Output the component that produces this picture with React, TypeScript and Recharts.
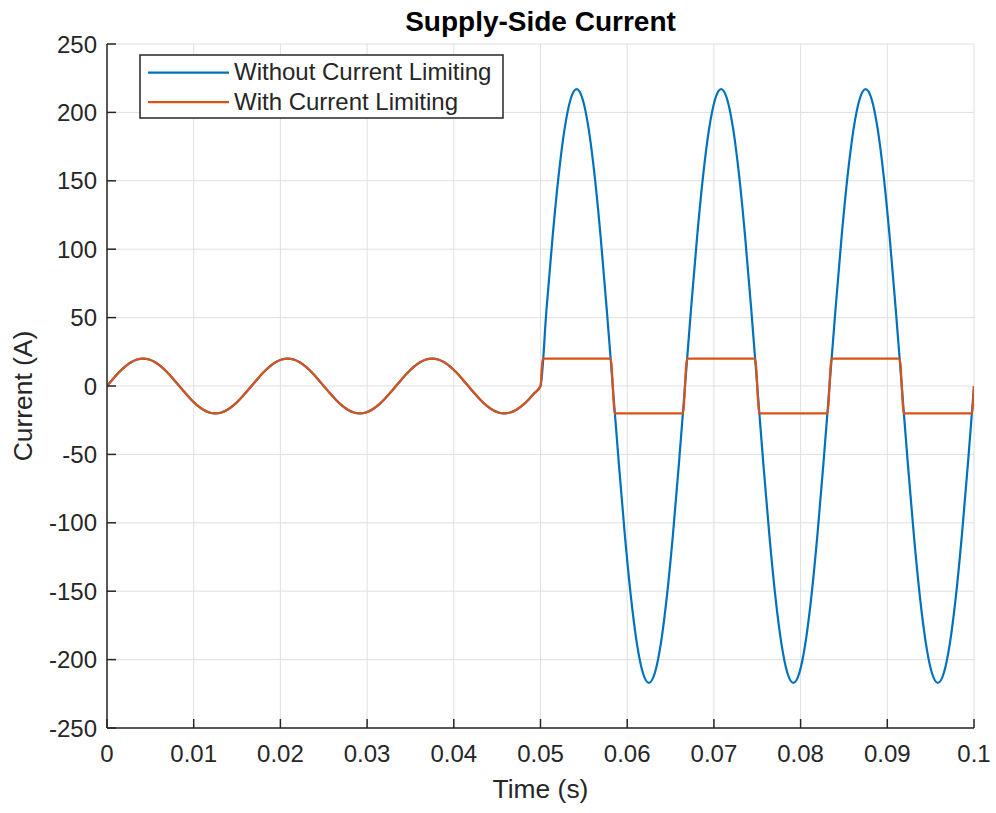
import { LineChart, Line, XAxis, YAxis, CartesianGrid, Legend } from 'recharts';

// sampled supply current, 60 Hz, fault at t = 0.05 s
const timeS = [
  0, 0.000694, 0.001389, 0.002083, 0.002778, 0.003472, 0.004167, 0.004861, 0.005556, 0.00625, 0.006944, 0.007639,
  0.008333, 0.009028, 0.009722, 0.010417, 0.011111, 0.011806, 0.0125, 0.013194, 0.013889, 0.014583, 0.015278, 0.015972,
  0.016667, 0.017361, 0.018056, 0.01875, 0.019444, 0.020139, 0.020833, 0.021528, 0.022222, 0.022917, 0.023611, 0.024306,
  0.025, 0.025694, 0.026389, 0.027083, 0.027778, 0.028472, 0.029167, 0.029861, 0.030556, 0.03125, 0.031944, 0.032639,
  0.033333, 0.034028, 0.034722, 0.035417, 0.036111, 0.036806, 0.0375, 0.038194, 0.038889, 0.039583, 0.040278, 0.040972,
  0.041667, 0.042361, 0.043056, 0.04375, 0.044444, 0.045139, 0.045833, 0.046528, 0.047222, 0.047917, 0.048611, 0.049306,
  0.05, 0.050694, 0.051389, 0.052083, 0.052778, 0.053472, 0.054167, 0.054861, 0.055556, 0.05625, 0.056944, 0.057639,
  0.058333, 0.059028, 0.059722, 0.060417, 0.061111, 0.061806, 0.0625, 0.063194, 0.063889, 0.064583, 0.065278, 0.065972,
  0.066667, 0.067361, 0.068056, 0.06875, 0.069444, 0.070139, 0.070833, 0.071528, 0.072222, 0.072917, 0.073611, 0.074306,
  0.075, 0.075694, 0.076389, 0.077083, 0.077778, 0.078472, 0.079167, 0.079861, 0.080556, 0.08125, 0.081944, 0.082639,
  0.083333, 0.084028, 0.084722, 0.085417, 0.086111, 0.086806, 0.0875, 0.088194, 0.088889, 0.089583, 0.090278, 0.090972,
  0.091667, 0.092361, 0.093056, 0.09375, 0.094444, 0.095139, 0.095833, 0.096528, 0.097222, 0.097917, 0.098611, 0.099306,
  0.1,
];

const currentWithout = [
  0, 5.18, 10, 14.14, 17.32, 19.32, 20, 19.32, 17.32, 14.14, 10, 5.18,
  0, -5.18, -10, -14.14, -17.32, -19.32, -20, -19.32, -17.32, -14.14, -10, -5.18,
  0, 5.18, 10, 14.14, 17.32, 19.32, 20, 19.32, 17.32, 14.14, 10, 5.18,
  0, -5.18, -10, -14.14, -17.32, -19.32, -20, -19.32, -17.32, -14.14, -10, -5.18,
  0, 5.18, 10, 14.14, 17.32, 19.32, 20, 19.32, 17.32, 14.14, 10, 5.18,
  0, -5.18, -10, -14.14, -17.32, -19.32, -20, -19.32, -17.32, -14.14, -10, -5.18,
  0, 56.2, 108.5, 153.4, 187.9, 209.6, 217, 209.6, 187.9, 153.4, 108.5, 56.2,
  0, -56.2, -108.5, -153.4, -187.9, -209.6, -217, -209.6, -187.9, -153.4, -108.5, -56.2,
  0, 56.2, 108.5, 153.4, 187.9, 209.6, 217, 209.6, 187.9, 153.4, 108.5, 56.2,
  0, -56.2, -108.5, -153.4, -187.9, -209.6, -217, -209.6, -187.9, -153.4, -108.5, -56.2,
  0, 56.2, 108.5, 153.4, 187.9, 209.6, 217, 209.6, 187.9, 153.4, 108.5, 56.2,
  0, -56.2, -108.5, -153.4, -187.9, -209.6, -217, -209.6, -187.9, -153.4, -108.5, -56.2,
  0,
];

// limited current: same sine before the fault, clipped at +/-20 A afterwards
const limitedTimeS = [
  0, 0.000694, 0.001389, 0.002083, 0.002778, 0.003472, 0.004167, 0.004861, 0.005556, 0.00625, 0.006944, 0.007639,
  0.008333, 0.009028, 0.009722, 0.010417, 0.011111, 0.011806, 0.0125, 0.013194, 0.013889, 0.014583, 0.015278, 0.015972,
  0.016667, 0.017361, 0.018056, 0.01875, 0.019444, 0.020139, 0.020833, 0.021528, 0.022222, 0.022917, 0.023611, 0.024306,
  0.025, 0.025694, 0.026389, 0.027083, 0.027778, 0.028472, 0.029167, 0.029861, 0.030556, 0.03125, 0.031944, 0.032639,
  0.033333, 0.034028, 0.034722, 0.035417, 0.036111, 0.036806, 0.0375, 0.038194, 0.038889, 0.039583, 0.040278, 0.040972,
  0.041667, 0.042361, 0.043056, 0.04375, 0.044444, 0.045139, 0.045833, 0.046528, 0.047222, 0.047917, 0.048611, 0.049306,
  0.05, 0.050245, 0.058088, 0.058578, 0.066422, 0.066912, 0.074755, 0.075245, 0.083088, 0.083578, 0.091422, 0.091912,
  0.099755, 0.1,
];

const currentWith = [
  0, 5.18, 10, 14.14, 17.32, 19.32, 20, 19.32, 17.32, 14.14, 10, 5.18,
  0, -5.18, -10, -14.14, -17.32, -19.32, -20, -19.32, -17.32, -14.14, -10, -5.18,
  0, 5.18, 10, 14.14, 17.32, 19.32, 20, 19.32, 17.32, 14.14, 10, 5.18,
  0, -5.18, -10, -14.14, -17.32, -19.32, -20, -19.32, -17.32, -14.14, -10, -5.18,
  0, 5.18, 10, 14.14, 17.32, 19.32, 20, 19.32, 17.32, 14.14, 10, 5.18,
  0, -5.18, -10, -14.14, -17.32, -19.32, -20, -19.32, -17.32, -14.14, -10, -5.18,
  0, 20, 20, -20, -20, 20, 20, -20, -20, 20, 20, -20,
  -20, 0,
];

const seriesNames = ['Without Current Limiting', 'With Current Limiting'];
const xTicks = [0, 0.01, 0.02, 0.03, 0.04, 0.05, 0.06, 0.07, 0.08, 0.09, 0.1];
const yTicks = [-250, -200, -150, -100, -50, 0, 50, 100, 150, 200, 250];

const FONT = '"Liberation Sans", Arial, Helvetica, sans-serif';
const AXIS = '#262626';

const withoutData = timeS.map((t, i) => ({ t, current: currentWithout[i] }));
const withData = limitedTimeS.map((t, i) => ({ t, current: currentWith[i] }));

const LegendBox = ({ payload }: any) => {
  // keep plotting order, not alphabetical
  const items = [...(payload || [])].sort(
    (a: any, b: any) => seriesNames.indexOf(a.value) - seriesNames.indexOf(b.value)
  );
  return (
    <svg width={366} height={66} style={{ display: 'block' }}>
      <rect x={1} y={1} width={363} height={63} fill="#fff" stroke={AXIS} strokeWidth={1.5} />
      {items.map((p: any, i: number) => (
        <g key={p.value}>
          <line x1={9} x2={90} y1={18.7 + i * 29.5} y2={18.7 + i * 29.5} stroke={p.color} strokeWidth={2.2} />
          <text x={95} y={26 + i * 29.5} fontSize={24} fill={AXIS} fontFamily={FONT}>
            {p.value}
          </text>
        </g>
      ))}
    </svg>
  );
};

export default function App() {
  return (
    <div style={{ position: 'absolute', left: 0, top: 0, width: 996, height: 813, background: '#fff' }}>
      <LineChart width={996} height={813} margin={{ top: 44, right: 22, bottom: 25, left: 47 }}>
        <CartesianGrid stroke="#dfdfdf" strokeWidth={1} />
        <XAxis
          dataKey="t"
          type="number"
          domain={[0, 0.1]}
          ticks={xTicks}
          interval={0}
          allowDataOverflow
          height={60}
          tickSize={-9}
          tickMargin={26}
          tick={{ fill: AXIS, fontSize: 24, fontFamily: FONT }}
          axisLine={{ stroke: AXIS, strokeWidth: 1.5 }}
          tickLine={{ stroke: AXIS, strokeWidth: 1.5 }}
        />
        <YAxis
          type="number"
          domain={[-250, 250]}
          ticks={yTicks}
          interval={0}
          allowDataOverflow
          width={60}
          tickSize={-9}
          tickMargin={19}
          tick={{ fill: AXIS, fontSize: 24, fontFamily: FONT }}
          axisLine={{ stroke: AXIS, strokeWidth: 1.5 }}
          tickLine={{ stroke: AXIS, strokeWidth: 1.5 }}
        />
        <Legend
          layout="vertical"
          align="center"
          verticalAlign="middle"
          content={<LegendBox />}
          wrapperStyle={{ left: 139, top: 54, width: 366, height: 66 }}
        />
        <Line
          data={withoutData}
          dataKey="current"
          name={seriesNames[0]}
          type="monotone"
          stroke="#0072BD"
          strokeWidth={2.2}
          dot={false}
          activeDot={false}
          isAnimationActive={false}
        />
        <Line
          data={withData}
          dataKey="current"
          name={seriesNames[1]}
          type="monotone"
          stroke="#D95319"
          strokeWidth={2.2}
          dot={false}
          activeDot={false}
          isAnimationActive={false}
        />
      </LineChart>
      <svg
        width={996}
        height={813}
        style={{ position: 'absolute', left: 0, top: 0, pointerEvents: 'none' }}
      >
        <text x={540.5} y={31} textAnchor="middle" fontSize={28} fontWeight="bold" fill="#000" fontFamily={FONT}>
          Supply-Side Current
        </text>
        <text x={540.5} y={798} textAnchor="middle" fontSize={26.4} fill={AXIS} fontFamily={FONT}>
          Time (s)
        </text>
        <text
          x={0}
          y={0}
          transform="translate(32, 396) rotate(-90)"
          textAnchor="middle"
          fontSize={26.4}
          fill={AXIS}
          fontFamily={FONT}
        >
          Current (A)
        </text>
      </svg>
    </div>
  );
}
